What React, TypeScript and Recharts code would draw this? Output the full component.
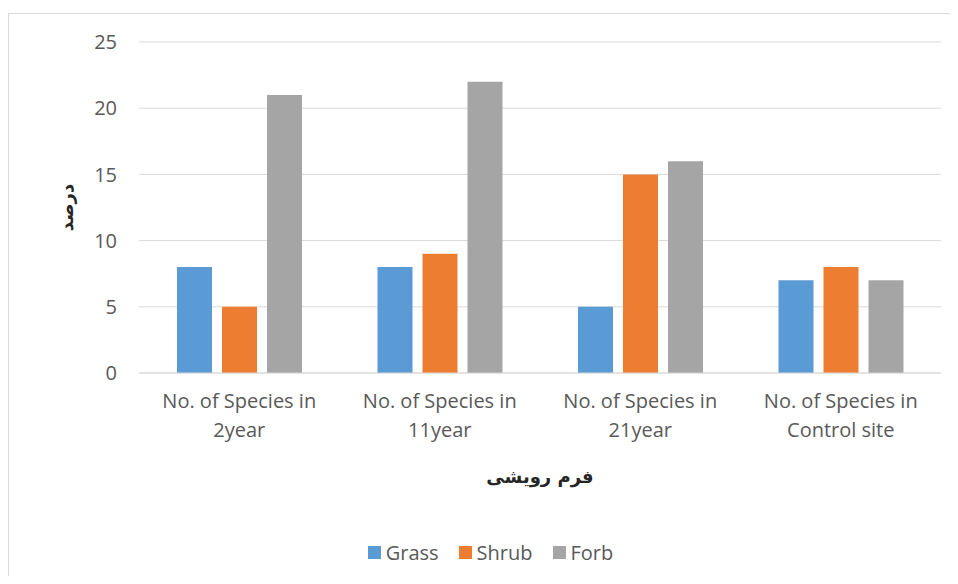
import { BarChart, Bar, XAxis, YAxis, CartesianGrid, Legend } from 'recharts';

const categories = ['No. of Species in\n2year', 'No. of Species in\n11year', 'No. of Species in\n21year', 'No. of Species in\nControl site'];
const grass = [8, 8, 5, 7];
const shrub = [5, 9, 15, 8];
const forb = [21, 22, 16, 7];
const yTicks = [0, 5, 10, 15, 20, 25];

const seriesNames = ['Grass', 'Shrub', 'Forb'];
const colors = ['#5B9BD5', '#ED7D31', '#A5A5A5'];

const data = categories.map((c, i) => ({ name: c, Grass: grass[i], Shrub: shrub[i], Forb: forb[i] }));

const textColor = '#595959';
const font = '"Open Sans", "DejaVu Sans", sans-serif';

function CategoryTick(props: any) {
  const { x, y, payload } = props;
  const lines = String(payload.value).split('\n');
  return (
    <text x={x} y={y} textAnchor="middle" fill={textColor} fontSize={20} fontFamily={font}>
      {lines.map((l, i) => (
        <tspan key={i} x={x} dy={i === 0 ? 27 : 29}>{l}</tspan>
      ))}
    </text>
  );
}

function XTitle(props: any) {
  const { viewBox } = props;
  return (
    <text x={viewBox.x + viewBox.width / 2} y={viewBox.y + 110} textAnchor="middle" fill="#262626" fontSize={18} fontWeight="bold" fontFamily='"DejaVu Sans", sans-serif'>
      فرم رویشی
    </text>
  );
}

function YTitle(props: any) {
  const { viewBox } = props;
  const cx = 66;
  const cy = viewBox.y + viewBox.height / 2;
  return (
    <text x={cx} y={cy} transform={`rotate(-90 ${cx} ${cy})`} textAnchor="middle" dominantBaseline="central" fill="#262626" fontSize={18} fontWeight="bold" fontFamily='"DejaVu Sans", sans-serif'>
      درصد
    </text>
  );
}

function LegendBox() {
  return (
    <div style={{ height: 30, display: 'flex', justifyContent: 'center', alignItems: 'center', gap: 20, fontFamily: font, fontSize: 20, color: textColor }}>
      {seriesNames.map((n, i) => (
        <span key={n} style={{ display: 'flex', alignItems: 'center', gap: 5 }}>
          <span style={{ width: 13, height: 13, background: colors[i], display: 'inline-block' }} />
          {n}
        </span>
      ))}
    </div>
  );
}

export default function App() {
  return (
    <div style={{ position: 'relative', margin: -8, width: 958, height: 584, background: '#fff', overflow: 'hidden' }}>
      <div style={{ position: 'absolute', left: 8, top: 13, width: 980, height: 600, borderLeft: '1px solid #d9d9d9', borderTop: '1px solid #d9d9d9' }} />
      <div style={{ position: 'absolute', left: 0, top: 0 }}>
        <BarChart width={958} height={584} data={data} barSize={35} barGap={10} margin={{ top: 42, right: 17, left: 40, bottom: 17 }}>
          <CartesianGrid vertical={false} stroke="#d9d9d9" strokeWidth={1} />
          <XAxis dataKey="name" height={164} tickLine={false} axisLine={{ stroke: '#d9d9d9' }} tick={<CategoryTick />} interval={0} label={<XTitle />} />
          <YAxis width={99} domain={[0, 25]} ticks={yTicks} tickLine={false} axisLine={false} tickSize={0} tickMargin={22} tick={{ fill: textColor, fontSize: 20, fontFamily: font }} label={<YTitle />} />
          <Legend verticalAlign="bottom" content={<LegendBox />} />
          {seriesNames.map((n, i) => (
            <Bar key={n} dataKey={n} fill={colors[i]} isAnimationActive={false} />
          ))}
        </BarChart>
      </div>
    </div>
  );
}
